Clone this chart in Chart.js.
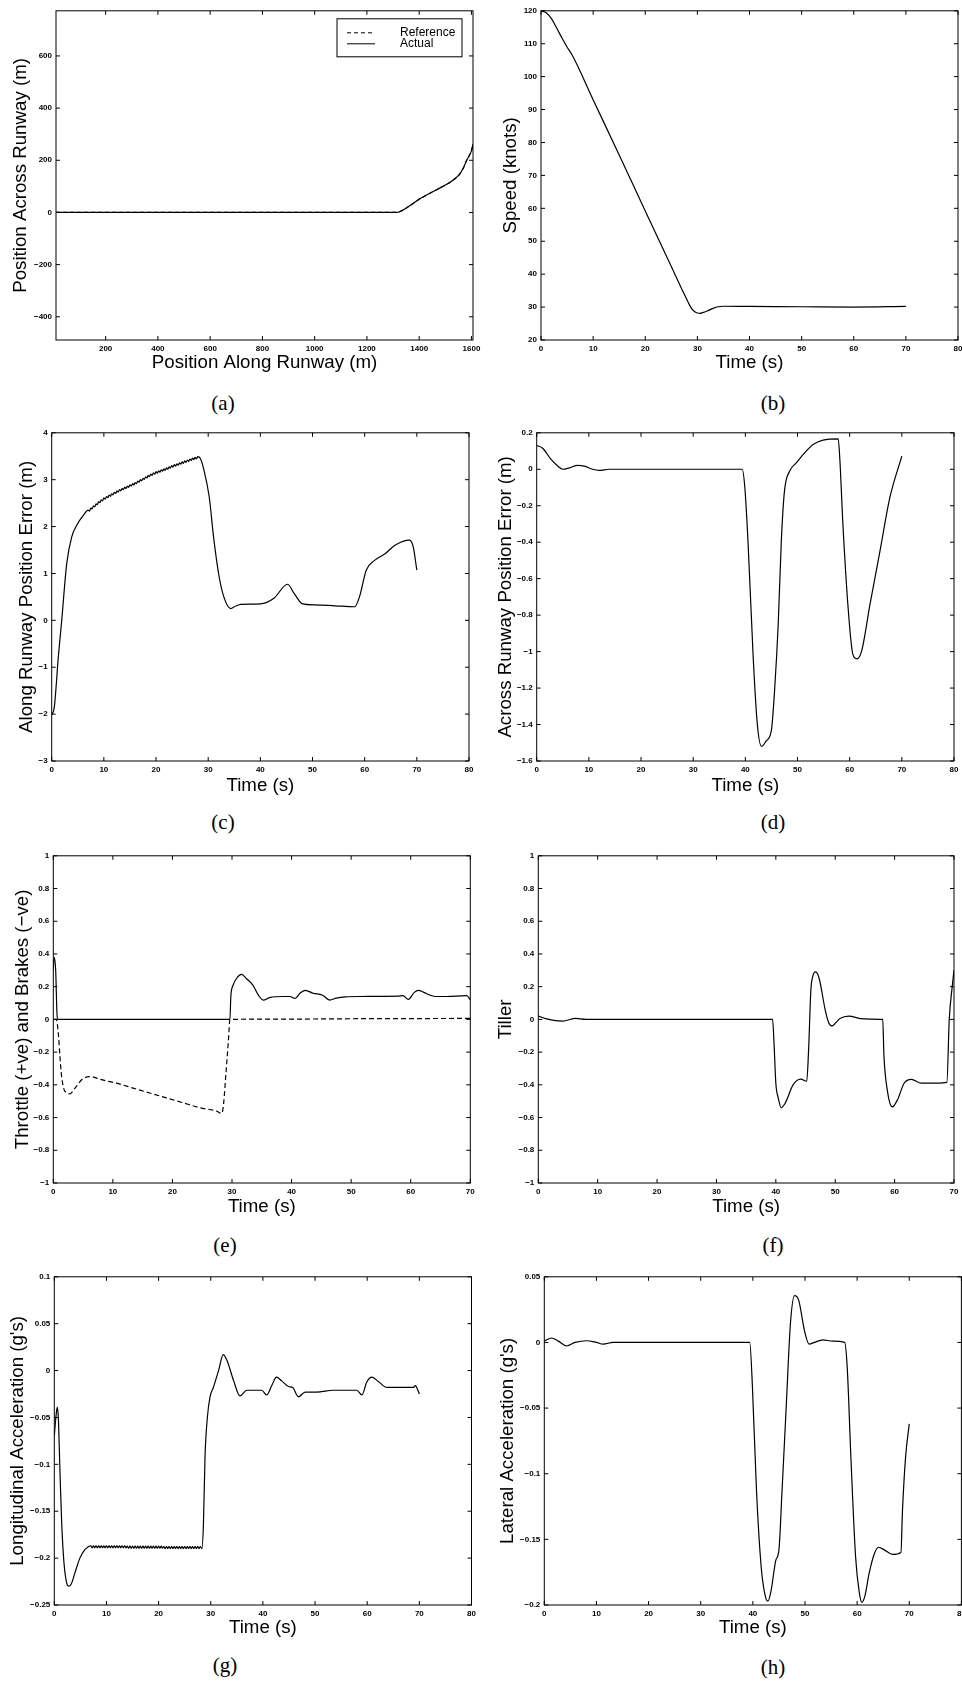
<!DOCTYPE html>
<html>
<head>
<meta charset="utf-8">
<title>Taxi simulation results</title>
<script src="https://cdn.jsdelivr.net/npm/chart.js@4.4.1/dist/chart.umd.min.js"></script>
<style>
  html, body { margin: 0; padding: 0; background: #fff; }
  #page { position: relative; width: 962px; height: 1681px; overflow: hidden; background: #fff; }
  #page canvas { position: absolute; }
  .cap { position: absolute; font: 21px "Liberation Serif", "Times New Roman", serif; color: #000;
         transform: translate(-50%, -50%); white-space: nowrap; }
</style>
</head>
<body>
<div id="page"></div>
<script>
// (a) ground track
const aX = [10, 600, 1200, 1300, 1313, 1330, 1351, 1375, 1397, 1425, 1453, 1485, 1517, 1540, 1555, 1570, 1581, 1592, 1600, 1606];
const aY = [0, 0, 0, 0, 0, 5, 17, 33, 49, 65, 80, 97, 115, 132, 147, 172, 198, 218, 236, 262];
const aXTicks = [200, 400, 600, 800, 1000, 1200, 1400, 1600];
const aYTicks = [-400, -200, 0, 200, 400, 600];

// (b) speed
const bT = [0, 1, 2, 3, 4, 5, 6, 10, 15, 20, 25, 27, 28, 28.5, 29, 29.5, 30, 30.5, 31, 32, 33, 34, 35, 40, 50, 60, 70];
const bSpeed = [120, 119.4, 117.6, 114.8, 111.8, 109.0, 106.5, 93.0, 76.2, 59.2, 42.3, 35.5, 32.2, 30.6, 29.3, 28.6, 28.2, 28.1, 28.3, 28.9, 29.6, 30.1, 30.25, 30.2, 30.1, 30.0, 30.2];
const bYTicks = [20, 30, 40, 50, 60, 70, 80, 90, 100, 110, 120];

// (c) along runway error
const cT = [0, 0.5, 1.27, 1.92, 2.88, 3.84, 4.8, 6.08,
  7, 7.25, 7.5, 7.75, 8, 8.25, 8.5, 8.75, 9, 9.25, 9.5, 9.75, 10, 10.25, 10.5, 10.75,
  11, 11.25, 11.5, 11.75, 12, 12.25, 12.5, 12.75, 13, 13.25, 13.5, 13.75, 14, 14.25, 14.5, 14.75,
  15, 15.25, 15.5, 15.75, 16, 16.25, 16.5, 16.75, 17, 17.25, 17.5, 17.75, 18, 18.25, 18.5, 18.75,
  19, 19.25, 19.5, 19.75, 20, 20.25, 20.5, 20.75, 21, 21.25, 21.5, 21.75, 22, 22.25, 22.5, 22.75,
  23, 23.25, 23.5, 23.75, 24, 24.25, 24.5, 24.75, 25, 25.25, 25.5, 25.75, 26, 26.25, 26.5, 26.75,
  27, 27.25, 27.5, 27.75, 28,
  28.5, 29.2, 30.2, 31.1, 32.1, 33.0, 34.3, 35.2, 36.2, 40, 42.6, 45.2, 46.5, 48.1, 50.4, 54.3, 58.1, 59.0,
  60.3, 61.9, 63.9, 65.8, 68.6, 69.3, 70];
const cErr = [-2.02, -1.85, -0.78, 0.0, 1.21, 1.78, 2.03, 2.24,
  2.35, 2.33, 2.395, 2.377, 2.44, 2.422, 2.485, 2.467, 2.53, 2.51, 2.57, 2.55, 2.61, 2.585, 2.64, 2.615,
  2.67, 2.645, 2.70, 2.675, 2.73, 2.705, 2.76, 2.735, 2.79, 2.763, 2.815, 2.788, 2.84, 2.813, 2.865, 2.838,
  2.89, 2.863, 2.915, 2.888, 2.94, 2.915, 2.97, 2.945, 3.00, 2.975, 3.03, 3.005, 3.06, 3.035, 3.09, 3.065,
  3.12, 3.093, 3.145, 3.118, 3.17, 3.14, 3.19, 3.16, 3.21, 3.18, 3.23, 3.20, 3.25, 3.223, 3.275, 3.248,
  3.30, 3.27, 3.32, 3.29, 3.34, 3.31, 3.36, 3.33, 3.38, 3.35, 3.40, 3.37, 3.42, 3.39, 3.44, 3.41,
  3.46, 3.428, 3.475, 3.443, 3.49,
  3.45, 3.2, 2.63, 1.71, 0.93, 0.5, 0.25, 0.3, 0.34, 0.35, 0.47, 0.77, 0.57, 0.35, 0.33, 0.31, 0.29, 0.5,
  1.07, 1.28, 1.42, 1.6, 1.71, 1.57, 1.07];
const cYTicks = [-3, -2, -1, 0, 1, 2, 3, 4];

// (d) across runway error
const dT = [0, 1.15, 2.75, 4.03, 4.99, 6.27, 7.86, 9.14, 10.7, 12.0, 13.9, 20, 30, 39.4, 39.9, 40.5, 41.5, 42.3, 43.1, 44.0,
  45.0, 45.6, 46.3, 46.9, 47.5, 48.5, 49.8, 51.1, 53.0, 54.9, 57.8, 58.1, 58.7, 59.7, 60.6, 61.4, 62.3, 63.9, 65.8, 67.7, 70];
const dErr = [0.13, 0.115, 0.054, 0.018, 0.0, 0.008, 0.021, 0.017, 0.0, -0.006, 0, 0, 0, 0, -0.1, -0.39, -1.03, -1.4, -1.52, -1.49,
  -1.43, -1.215, -0.85, -0.39, -0.12, -0.01, 0.036, 0.082, 0.136, 0.16, 0.167, 0.063, -0.30, -0.76, -1.014, -1.04, -0.996, -0.74, -0.45, -0.156, 0.072];
const dYTicks = [-1.6, -1.4, -1.2, -1, -0.8, -0.6, -0.4, -0.2, 0, 0.2];

// (e) throttle (solid) and brakes (dashed)
const eT = [0, 0.15, 0.4, 0.6, 0.7, 29.65, 29.8, 30.2, 30.75, 31.6, 32.4, 33.5, 34.4, 35.25, 36.4, 38.6, 39.7, 40.6, 41.4, 42.3,
  43.6, 45.2, 46.4, 47.5, 49, 51.5, 57.9, 58.7, 59.6, 60.6, 61.3, 62.2, 63.5, 64.1, 66, 69.4, 70];
const eThrottle = [0.30, 0.38, 0.30, 0.05, 0, 0, 0.14, 0.21, 0.25, 0.275, 0.25, 0.21, 0.15, 0.118, 0.135, 0.14, 0.14, 0.128, 0.16, 0.178,
  0.16, 0.148, 0.118, 0.13, 0.138, 0.14, 0.142, 0.145, 0.122, 0.165, 0.178, 0.165, 0.145, 0.14, 0.14, 0.145, 0.12];
const eBrakeT = [0, 0.5, 0.84, 1.12, 1.4, 1.96, 2.8, 3.65, 5.05, 6.4, 7.8, 10.6, 13.4, 16.2, 19, 21.8, 24.6, 27.4, 28.3, 28.6,
  28.98, 29.4, 29.65, 40, 50, 60, 70];
const eBrake = [0, 0, -0.085, -0.228, -0.35, -0.44, -0.455, -0.42, -0.36, -0.35, -0.366, -0.39, -0.42, -0.45, -0.48, -0.51, -0.54, -0.56, -0.575, -0.51,
  -0.33, -0.126, 0, 0.002, 0.004, 0.005, 0.006];
const unitTicks = [-1, -0.8, -0.6, -0.4, -0.2, 0, 0.2, 0.4, 0.6, 0.8, 1];

// (f) tiller
const fT = [0, 1.25, 2.9, 4.1, 6.3, 8, 20, 39.45, 39.7, 40.0, 40.4, 40.9, 41.6, 42.9, 44.2, 45.2, 45.5, 45.9, 46.2, 46.7,
  47.3, 48.3, 48.9, 49.5, 50.1, 50.8, 52.3, 54.2, 55.9, 58.0, 58.2, 58.8, 59.6, 60.5, 61.6, 62.8, 64.5, 67.0, 68.8, 69.2, 69.7, 70];
const fTiller = [0.02, 0.005, -0.008, -0.01, 0.006, 0, 0, 0, -0.15, -0.39, -0.48, -0.54, -0.51, -0.40, -0.365, -0.378, -0.2, 0.18, 0.26, 0.29,
  0.25, 0.06, -0.02, -0.04, -0.02, 0.005, 0.02, 0.005, 0.002, 0, -0.22, -0.44, -0.535, -0.49, -0.39, -0.366, -0.39, -0.39, -0.385, 0.0, 0.2, 0.3];

// (g) longitudinal acceleration
const gT = [0, 0.3, 0.57, 0.77, 1.1, 1.42, 1.87, 2.4, 2.8, 3.3, 3.94, 4.9, 5.86, 6.5,
  7, 7.25, 7.5, 7.75, 8, 8.25, 8.5, 8.75, 9, 9.25, 9.5, 9.75, 10, 10.25, 10.5, 10.75,
  11, 11.25, 11.5, 11.75, 12, 12.25, 12.5, 12.75, 13, 13.25, 13.5, 13.75, 14, 14.25, 14.5, 14.75,
  15, 15.25, 15.5, 15.75, 16, 16.25, 16.5, 16.75, 17, 17.25, 17.5, 17.75, 18, 18.25, 18.5, 18.75,
  19, 19.25, 19.5, 19.75, 20, 20.25, 20.5, 20.75, 21, 21.25, 21.5, 21.75, 22, 22.25, 22.5, 22.75,
  23, 23.25, 23.5, 23.75, 24, 24.25, 24.5, 24.75, 25, 25.25, 25.5, 25.75, 26, 26.25, 26.5, 26.75,
  27, 27.25, 27.5, 27.75, 28,
  28.3, 28.6, 28.9, 29.35, 29.86, 30.5, 31.5, 32.4, 33.1, 34.4, 35.6, 36.9, 38.8, 39.8, 40.7, 41.7, 42.6, 43.6, 44.9, 45.7,
  46.8, 48.1, 50.3, 53.5, 58.0, 59.0, 59.9, 60.9, 62.2, 63.8, 66.3, 68.9, 69.2, 70];
const gAcc = [-0.07, -0.05, -0.039, -0.05, -0.11, -0.163, -0.206, -0.227, -0.23, -0.227, -0.216, -0.2, -0.191, -0.188,
  -0.1868, -0.189, -0.1868, -0.189, -0.1868, -0.189, -0.1868, -0.189, -0.1868, -0.189, -0.1868, -0.189, -0.1868, -0.189, -0.1868, -0.189,
  -0.1868, -0.189, -0.1868, -0.189, -0.1868, -0.189, -0.1868, -0.189, -0.1868, -0.189, -0.1868, -0.189, -0.1872, -0.1894, -0.1872, -0.1894,
  -0.1872, -0.1894, -0.1872, -0.1894, -0.1872, -0.1894, -0.1872, -0.1894, -0.1872, -0.1894, -0.1872, -0.1894, -0.1872, -0.1894, -0.1872, -0.1894,
  -0.1872, -0.1894, -0.1872, -0.1894, -0.1872, -0.1894, -0.1872, -0.1894, -0.1876, -0.1898, -0.1876, -0.1898, -0.1876, -0.1898, -0.1876, -0.1898,
  -0.1876, -0.1898, -0.1876, -0.1898, -0.1876, -0.1898, -0.1876, -0.1898, -0.1876, -0.1898, -0.1876, -0.1898, -0.1876, -0.1898, -0.1876, -0.1898,
  -0.1876, -0.1898, -0.1876, -0.1898, -0.1876,
  -0.19, -0.163, -0.092, -0.05, -0.028, -0.018, 0.0, 0.017, 0.011, -0.011, -0.027, -0.021, -0.021, -0.021, -0.026, -0.016, -0.007, -0.011, -0.017, -0.018,
  -0.028, -0.023, -0.023, -0.021, -0.021, -0.026, -0.0124, -0.007, -0.012, -0.018, -0.018, -0.018, -0.016, -0.025];
const gYTicks = [-0.25, -0.2, -0.15, -0.1, -0.05, 0, 0.05, 0.1];

// (h) lateral acceleration
const hT = [0, 1.4, 2.7, 4.3, 5.9, 8.1, 10.0, 11.3, 13.2, 20, 30, 39.4, 39.9, 40.7, 41.6, 42.5, 42.9, 43.5, 44.4, 45.0,
  45.6, 46.4, 47.2, 48.0, 48.8, 49.9, 50.8, 51.8, 53.4, 55.3, 57.6, 58.1, 58.8, 59.7, 60.4, 60.9, 61.5, 62.3, 63.3, 64.1,
  65.2, 66.8, 68.4, 68.7, 69.3, 70];
const hAcc = [0.001, 0.0034, 0.001, -0.0027, 0, 0.0013, 0, -0.0013, 0, 0, 0, 0, -0.032, -0.113, -0.171, -0.195, -0.197, -0.189, -0.166, -0.158,
  -0.113, -0.049, 0.014, 0.0356, 0.032, 0.009, -0.0013, 0, 0.002, 0.001, 0, -0.019, -0.087, -0.163, -0.19, -0.198, -0.193, -0.176, -0.161, -0.156,
  -0.158, -0.1615, -0.16, -0.128, -0.087, -0.062];
const hYTicks = [-0.2, -0.15, -0.1, -0.05, 0, 0.05];

const time80 = [0, 10, 20, 30, 40, 50, 60, 70, 80];
const time70 = [0, 10, 20, 30, 40, 50, 60, 70];

Chart.defaults.font.family = '"Liberation Sans", Arial, Helvetica, sans-serif';
Chart.defaults.color = '#000';

const TICK = 4;
const TITLE_SIZE = 18.7;
const HALF = TITLE_SIZE * 1.2 / 2;

// box round the plot with inward tick marks on all four sides
const frame = {
  id: 'frame',
  afterDatasetsDraw(chart) {
    const {ctx, chartArea: {left, top, right, bottom}, scales: {x, y}} = chart;
    ctx.save();
    ctx.strokeStyle = '#000';
    ctx.lineWidth = 1;
    ctx.setLineDash([]);
    ctx.strokeRect(left, top, right - left, bottom - top);
    ctx.beginPath();
    x.ticks.forEach(t => {
      const px = x.getPixelForValue(t.value);
      ctx.moveTo(px, bottom); ctx.lineTo(px, bottom - TICK);
      ctx.moveTo(px, top); ctx.lineTo(px, top + TICK);
    });
    y.ticks.forEach(t => {
      const py = y.getPixelForValue(t.value);
      ctx.moveTo(left, py); ctx.lineTo(left + TICK, py);
      ctx.moveTo(right, py); ctx.lineTo(right - TICK, py);
    });
    ctx.stroke();
    ctx.restore();
  }
};

// small boxed legend in the top right corner of the plot
const boxLegend = {
  id: 'boxLegend',
  afterDraw(chart, args, opts) {
    if (!opts.show) return;
    const {ctx, chartArea} = chart;
    const w = 125, h = 38;
    const x0 = chartArea.right - 11 - w, y0 = chartArea.top + 8;
    ctx.save();
    ctx.fillStyle = '#fff';
    ctx.fillRect(x0, y0, w, h);
    ctx.strokeStyle = '#000';
    ctx.lineWidth = 1;
    ctx.strokeRect(x0, y0, w, h);
    ctx.font = '12px "Liberation Sans", Arial, sans-serif';
    ctx.textBaseline = 'middle';
    ctx.fillStyle = '#000';
    chart.data.datasets.forEach((ds, i) => {
      const yy = y0 + 14 + i * 11;
      ctx.setLineDash(ds.borderDash || []);
      ctx.beginPath();
      ctx.moveTo(x0 + 10, yy);
      ctx.lineTo(x0 + 38, yy);
      ctx.stroke();
      ctx.setLineDash([]);
      ctx.fillText(ds.label, x0 + 63, yy);
    });
    ctx.restore();
  }
};

Chart.register(frame, boxLegend);

const panels = [
  { cap: '(a)', capX: 223, capY: 403, L: 56, T: 10, R: 473, B: 340, yt: 21, xt: 363,
    x: [10, 1606], xTicks: aXTicks, y: [-489, 773], yTicks: aYTicks,
    xTitle: 'Position Along Runway (m)', yTitle: 'Position Across Runway (m)', legend: true,
    series: [{label: 'Reference', t: aX, v: aY, dash: [4, 3]}, {label: 'Actual', t: aX, v: aY}] },
  { cap: '(b)', capX: 773, capY: 403, L: 541, T: 10, R: 958, B: 340, yt: 511.7, xt: 363,
    x: [0, 80], xTicks: time80, y: [20, 120], yTicks: bYTicks,
    xTitle: 'Time (s)', yTitle: 'Speed (knots)',
    series: [{label: 'Speed', t: bT, v: bSpeed}] },
  { cap: '(c)', capX: 223, capY: 822, L: 51.7, T: 432.3, R: 469, B: 761, yt: 27, xt: 786,
    x: [0, 80], xTicks: time80, y: [-3, 4], yTicks: cYTicks,
    xTitle: 'Time (s)', yTitle: 'Along Runway Position Error (m)',
    series: [{label: 'Along', t: cT, v: cErr}] },
  { cap: '(d)', capX: 773, capY: 822, L: 536.7, T: 431.7, R: 954, B: 761, yt: 506.7, xt: 786,
    x: [0, 80], xTicks: time80, y: [-1.6, 0.2], yTicks: dYTicks,
    xTitle: 'Time (s)', yTitle: 'Across Runway Position Error (m)',
    series: [{label: 'Across', t: dT, v: dErr}] },
  { cap: '(e)', capX: 225, capY: 1245, L: 53.3, T: 855, R: 470.3, B: 1183, yt: 23, xt: 1207,
    x: [0, 70], xTicks: time70, y: [-1, 1], yTicks: unitTicks,
    xTitle: 'Time (s)', yTitle: 'Throttle (+ve) and Brakes (\u2212ve)',
    series: [{label: 'Brakes', t: eBrakeT, v: eBrake, dash: [5, 3]}, {label: 'Throttle', t: eT, v: eThrottle}] },
  { cap: '(f)', capX: 773, capY: 1245, L: 538.3, T: 855, R: 954, B: 1183, yt: 506, xt: 1207,
    x: [0, 70], xTicks: time70, y: [-1, 1], yTicks: unitTicks,
    xTitle: 'Time (s)', yTitle: 'Tiller',
    series: [{label: 'Tiller', t: fT, v: fTiller}] },
  { cap: '(g)', capX: 225, capY: 1665, L: 54.3, T: 1276, R: 471.5, B: 1605, yt: 18, xt: 1628,
    x: [0, 80], xTicks: time80, y: [-0.25, 0.1], yTicks: gYTicks,
    xTitle: 'Time (s)', yTitle: 'Longitudinal Acceleration (g\'s)',
    series: [{label: 'Longitudinal', t: gT, v: gAcc}] },
  { cap: '(h)', capX: 773, capY: 1667, L: 544.3, T: 1276, R: 961.4, B: 1605, yt: 508, xt: 1628,
    x: [0, 80], xTicks: time80, y: [-0.2, 0.05], yTicks: hYTicks,
    xTitle: 'Time (s)', yTitle: 'Lateral Acceleration (g\'s)',
    series: [{label: 'Lateral', t: hT, v: hAcc}] }
];

const page = document.getElementById('page');
const minus = v => String(v).replace('-', '\u2212');
const tickFont = {size: 8, weight: 'bold'};
const titleFont = {size: TITLE_SIZE};

panels.forEach(p => {
  const cl = Math.round(p.yt - HALF);
  const ct = Math.round(p.T) - 8;
  const cw = Math.round(p.R) + 12 - cl;
  const ch = Math.round(p.xt + HALF) - ct;
  const yW = p.L - cl;
  const xH = ct + ch - p.B;

  const canvas = document.createElement('canvas');
  canvas.width = cw;
  canvas.height = ch;
  canvas.style.left = cl + 'px';
  canvas.style.top = ct + 'px';
  page.appendChild(canvas);

  const cap = document.createElement('div');
  cap.className = 'cap';
  cap.textContent = p.cap;
  cap.style.left = p.capX + 'px';
  cap.style.top = p.capY + 'px';
  page.appendChild(cap);

  new Chart(canvas, {
    type: 'line',
    data: {
      datasets: p.series.map(s => ({
        label: s.label,
        data: s.t.map((t, i) => ({x: t, y: s.v[i]})),
        borderColor: '#000',
        borderWidth: 1.2,
        borderDash: s.dash || [],
        pointRadius: 0,
        cubicInterpolationMode: 'monotone',
        fill: false
      }))
    },
    options: {
      responsive: false,
      animation: false,
      devicePixelRatio: 1,
      layout: {padding: {left: 0, top: p.T - ct, right: cw - (p.R - cl), bottom: 0}},
      scales: {
        x: {
          type: 'linear',
          min: p.x[0],
          max: p.x[1],
          afterBuildTicks: s => { s.ticks = p.xTicks.map(v => ({value: v})); },
          afterFit: s => { s.height = xH; },
          grid: {display: false, drawTicks: false},
          border: {display: false},
          ticks: {font: tickFont, padding: 4, autoSkip: false, maxRotation: 0, minRotation: 0, callback: minus},
          title: {display: true, text: p.xTitle, font: titleFont, padding: 0}
        },
        y: {
          type: 'linear',
          min: p.y[0],
          max: p.y[1],
          afterBuildTicks: s => { s.ticks = p.yTicks.map(v => ({value: v})); },
          afterFit: s => { s.width = yW; },
          grid: {display: false, drawTicks: false},
          border: {display: false},
          ticks: {font: tickFont, padding: 4, autoSkip: false, callback: minus},
          title: {display: true, text: p.yTitle, font: titleFont, padding: 0}
        }
      },
      plugins: {
        legend: {display: false},
        tooltip: {enabled: false},
        boxLegend: {show: !!p.legend}
      }
    }
  });
});
</script>
</body>
</html>
